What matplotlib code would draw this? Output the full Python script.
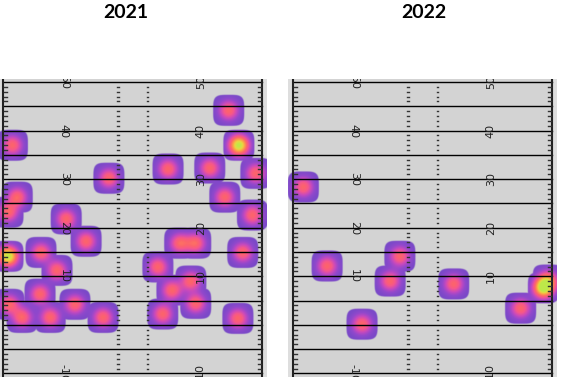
import numpy as np
import matplotlib
matplotlib.use("Agg")
from matplotlib import pyplot as plt
from matplotlib.colors import LinearSegmentedColormap

# play locations (yards across field, yards downfield); repeats = 2 plays
x_2021 = [46.5, 48.6, 48.6, 52.1, 34.0, 42.6, 45.7, 51.4, 21.8, 1.9,
          2.9, 1.0, 13.0, 17.1, 1.0, 1.0, 7.8, 11.1, 7.6, 1.2,
          3.9, 9.7, 14.8, 20.6, 36.4, 39.7, 49.4, 31.9, 34.8, 38.7,
          39.7, 32.9, 48.4]
y_2021 = [44.2, 37.0, 37.0, 31.2, 32.1, 32.3, 26.3, 22.6, 30.2, 37.0,
          26.3, 23.2, 21.8, 17.2, 14.1, 14.1, 14.9, 11.2, 6.3, 4.2,
          1.5, 1.5, 4.2, 1.5, 16.8, 16.8, 14.9, 11.9, 7.1, 9.0,
          4.4, 2.2, 1.3]
x_2022 = [2.1, 7.0, 22.0, 20.0, 14.2, 33.1, 46.9, 51.6, 51.6, 52.6]
y_2022 = [28.4, 12.1, 14.1, 9.0, 0.1, 8.4, 3.4, 7.6, 7.6, 9.2]

years = ["2021", "2022"]
number_lines = [-10, 10, 20, 30, 40, 50]

FIELD_W = 53.33
XMIN, XMAX = -1.03, 54.36
YMIN, YMAX = -10.75, 50.62
R = 3.3       # blob half size
SPREAD = 2.0  # colour falloff

cmap = LinearSegmentedColormap.from_list("heat", [
    (0.0, (0.44, 0.26, 0.78)),
    (0.12, (0.56, 0.25, 0.80)),
    (0.25, (0.78, 0.26, 0.74)),
    (0.4, (0.98, 0.32, 0.52)),
    (0.5, (1.0, 0.37, 0.40)),
    (0.7, (1.0, 0.62, 0.25)),
    (0.85, (0.92, 0.85, 0.22)),
    (1.0, (0.74, 0.92, 0.26)),
])


def blob_image(xs, ys):
    gx = np.linspace(XMIN, XMAX, 700)
    gy = np.linspace(YMIN, YMAX, 760)
    X, Y = np.meshgrid(gx, gy)
    dens = np.zeros_like(X)
    shape = np.full_like(X, 9.0)
    for x, y in zip(xs, ys):
        dx = X - x
        dy = Y - y
        dens += np.exp(-(dx**2 + dy**2) / SPREAD**2)
        s = ((np.abs(dx) / R) ** 4 + (np.abs(dy) / R) ** 4) ** 0.25
        shape = np.minimum(shape, s)
    rgba = cmap(np.clip(dens / 2, 0, 1))
    rgba[..., 3] = np.clip((1 - shape) / 0.06, 0, 1) * 0.95
    return rgba


def draw_field(ax):
    ax.set_facecolor("#dedede")
    ax.add_patch(plt.Rectangle((0, YMIN - 1), FIELD_W, YMAX - YMIN + 2,
                               color="#d3d3d3", zorder=0))
    for yl in range(-10, 51, 5):
        ax.plot([0, FIELD_W], [yl, yl], color="black", lw=1.0, zorder=3)
    for xs in [0, FIELD_W]:
        ax.plot([xs, xs], [YMIN - 1, YMAX + 1], color="#222222", lw=1.5, zorder=3)
    hash_y = [v for v in range(-11, 51) if v % 5 != 0]
    for yy in hash_y:
        ax.plot([0.25, 0.9], [yy, yy], color="#333333", lw=1.0, zorder=3)
        ax.plot([FIELD_W - 0.9, FIELD_W - 0.25], [yy, yy], color="#333333", lw=1.0, zorder=3)
        ax.plot([23.4, 23.8], [yy, yy], color="#333333", lw=1.0, zorder=3)
        ax.plot([29.55, 29.95], [yy, yy], color="#333333", lw=1.0, zorder=3)
    for n in number_lines:
        ax.text(12.5, n, str(n), rotation=-90, ha="center", va="center",
                fontsize=8, color="#222222", clip_on=True, zorder=4)
        ax.text(FIELD_W - 12.6, n, str(n), rotation=90, ha="center", va="center",
                fontsize=8, color="#222222", clip_on=True, zorder=4)


fig = plt.figure(figsize=(5.62, 3.77), dpi=100)
lefts = [-2 / 562, 288 / 562]
title_x = [126 / 562, 424 / 562]
data = [(x_2021, y_2021), (x_2022, y_2022)]

for i in range(2):
    ax = fig.add_axes([lefts[i], 0, 269 / 562, 298 / 377])
    draw_field(ax)
    ax.imshow(blob_image(*data[i]), extent=(XMIN, XMAX, YMIN, YMAX),
              origin="lower", interpolation="bilinear", aspect="auto", zorder=2)
    ax.set_xlim(XMIN, XMAX)
    ax.set_ylim(YMIN, YMAX)
    ax.set_xticks([])
    ax.set_yticks([])
    for sp in ax.spines.values():
        sp.set_visible(False)
    fig.text(title_x[i], 1 - 13 / 377, years[i], ha="center", va="center",
             fontsize=14, fontweight="bold", family="Lato")

fig.savefig("out.png", dpi=100)
